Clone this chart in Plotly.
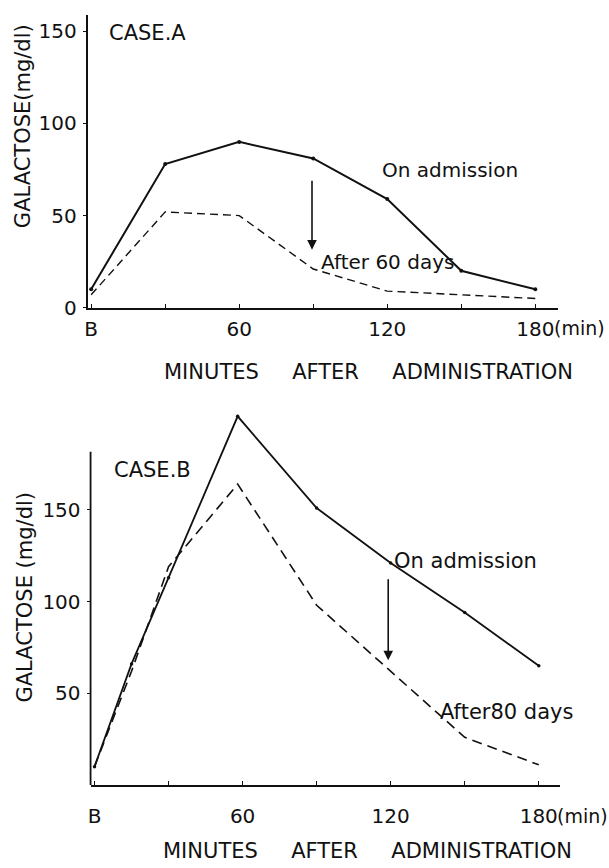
import plotly.graph_objects as go

# ---------------- data ----------------
# Case A
time_a = [0, 30, 60, 90, 120, 150, 180]
admission_a = [10, 78, 90, 81, 59, 20, 10]
after60_a = [7, 52, 50, 21, 9, 7, 5]

# Case B
time_b = [0, 15, 30, 58, 90, 120, 150, 180]
admission_b = [10, 66, 113, 201, 151, 121, 94, 65]
after80_b = [10, 62, 119, 164, 98, 62, 26, 11]

tick_vals = [0, 30, 60, 90, 120, 150, 180]
tick_text = ["B", "", "60", "", "120", "", "180"]
ytick_a = [0, 50, 100, 150]
ytick_b = [50, 100, 150]

W, H = 609, 868
FONT = "DejaVu Sans"
BLACK = "#111111"

def px_x(p):
    return p / W

def px_y(p):
    return 1 - p / H

fig = go.Figure()

# Case A traces
fig.add_trace(go.Scatter(x=time_a, y=admission_a, mode="lines+markers", cliponaxis=False,
                         line=dict(color=BLACK, width=2), marker=dict(size=4, color=BLACK),
                         xaxis="x", yaxis="y", showlegend=False))
fig.add_trace(go.Scatter(x=time_a, y=after60_a, mode="lines", cliponaxis=False,
                         line=dict(color=BLACK, width=1.4, dash="8px,5px"),
                         xaxis="x", yaxis="y", showlegend=False))
# Case B traces
fig.add_trace(go.Scatter(x=time_b, y=admission_b, mode="lines+markers", cliponaxis=False,
                         line=dict(color=BLACK, width=1.8), marker=dict(size=3.5, color=BLACK),
                         xaxis="x2", yaxis="y2", showlegend=False))
fig.add_trace(go.Scatter(x=time_b, y=after80_b, mode="lines", cliponaxis=False,
                         line=dict(color=BLACK, width=1.6, dash="10px,6px"),
                         xaxis="x2", yaxis="y2", showlegend=False))

axis_common = dict(showgrid=False, zeroline=False, linecolor=BLACK,
                   linewidth=1.8, tickfont=dict(family=FONT, size=20, color=BLACK),
                   tickcolor=BLACK, fixedrange=True)

# bottom panel: y axis drawn to 181.7, plot area extended so the peak is not clipped
B_AXIS_TOP = 181.7
B_RANGE_TOP = 206
B_PX_PER_UNIT = 1.86

fig.update_layout(
    width=W, height=H,
    margin=dict(l=0, r=0, t=0, b=0),
    paper_bgcolor="white", plot_bgcolor="white",
    font=dict(family=FONT, color=BLACK),
    xaxis=dict(domain=[px_x(85), px_x(558)], range=[-1.45, 189.3], anchor="y",
               tickvals=tick_vals, ticktext=tick_text, ticks="inside", ticklen=4,
               tickwidth=1.2, ticklabelstandoff=2, showline=True, **axis_common),
    yaxis=dict(domain=[px_y(312), px_y(15)], range=[0, 159], anchor="x",
               tickvals=ytick_a, ticks="outside", ticklen=3, tickwidth=1.2,
               ticklabelstandoff=2, showline=True, **axis_common),
    xaxis2=dict(domain=[px_x(88), px_x(560)], range=[-1.6, 188.7], anchor="y2",
                tickvals=tick_vals, ticktext=tick_text, ticks="inside", ticklen=4,
                tickwidth=1.2, ticklabelstandoff=12, showline=True, **axis_common),
    yaxis2=dict(domain=[px_y(796), px_y(796 - B_RANGE_TOP * B_PX_PER_UNIT)],
                range=[0, B_RANGE_TOP], anchor="x2",
                tickvals=ytick_b, ticks="outside", ticklen=3, tickwidth=1.2,
                ticklabelstandoff=2, showline=False, **axis_common),
)

# left axis line of bottom panel (ends at 181.7 like the reference)
fig.add_shape(type="line", xref="paper", yref="y2", x0=px_x(88), x1=px_x(88),
              y0=0, y1=B_AXIS_TOP, line=dict(color=BLACK, width=1.8))

ann_top = dict(family=FONT, size=20, color=BLACK)
ann_bot = dict(family=FONT, size=21, color=BLACK)
title_font = dict(family=FONT, size=21, color=BLACK)
sp = "\u00a0" * 5

annotations = [
    # text labels inside plots
    dict(text="CASE.A", x=6.6, y=149, xref="x", yref="y", xanchor="left", yanchor="middle",
         showarrow=False, font=ann_bot),
    dict(text="On admission", x=117, y=75, xref="x", yref="y", xanchor="left", yanchor="middle",
         showarrow=False, font=ann_top),
    dict(text="After 60 days", x=92.5, y=25, xref="x", yref="y", xanchor="left", yanchor="middle",
         showarrow=False, font=ann_top),
    dict(text="CASE.B", x=6.9, y=172, xref="x2", yref="y2", xanchor="left", yanchor="middle",
         showarrow=False, font=ann_bot),
    dict(text="On admission", x=120.5, y=122, xref="x2", yref="y2", xanchor="left", yanchor="middle",
         showarrow=False, font=ann_bot),
    dict(text="After80 days", x=139, y=40, xref="x2", yref="y2", xanchor="left", yanchor="middle",
         showarrow=False, font=ann_bot),
    # arrows
    dict(text="", x=89.5, y=31.5, ax=89.5, ay=69.7, xref="x", yref="y", axref="x", ayref="y",
         showarrow=True, arrowhead=2, arrowsize=1.2, arrowwidth=1.6, arrowcolor=BLACK),
    dict(text="", x=119, y=68, ax=119, ay=113, xref="x2", yref="y2", axref="x2", ayref="y2",
         showarrow=True, arrowhead=2, arrowsize=1.2, arrowwidth=1.6, arrowcolor=BLACK),
    # (min) units next to 180
    dict(text="(min)", x=px_x(552), y=px_y(333), xref="paper", yref="paper",
         xanchor="left", yanchor="middle", showarrow=False, font=dict(family=FONT, size=19, color=BLACK)),
    dict(text="(min)", x=px_x(555), y=px_y(827), xref="paper", yref="paper",
         xanchor="left", yanchor="middle", showarrow=False, font=dict(family=FONT, size=19, color=BLACK)),
    # axis titles
    dict(text="MINUTES" + sp + "AFTER" + sp + "ADMINISTRATION", x=px_x(367), y=px_y(377),
         xref="paper", yref="paper", xanchor="center", yanchor="middle", showarrow=False, font=title_font),
    dict(text="MINUTES" + sp + "AFTER" + sp + "ADMINISTRATION", x=px_x(366), y=0, yshift=-9,
         xref="paper", yref="paper", xanchor="center", yanchor="bottom", showarrow=False, font=title_font),
    dict(text="GALACTOSE(mg/dl)", x=px_x(20), y=px_y(128), xref="paper", yref="paper",
         xanchor="center", yanchor="middle", textangle=-90, showarrow=False, font=title_font),
    dict(text="GALACTOSE (mg/dl)", x=px_x(22), y=px_y(605), xref="paper", yref="paper",
         xanchor="center", yanchor="middle", textangle=-90, showarrow=False, font=title_font),
]
fig.update_layout(annotations=annotations)

fig.write_html("out.html")
